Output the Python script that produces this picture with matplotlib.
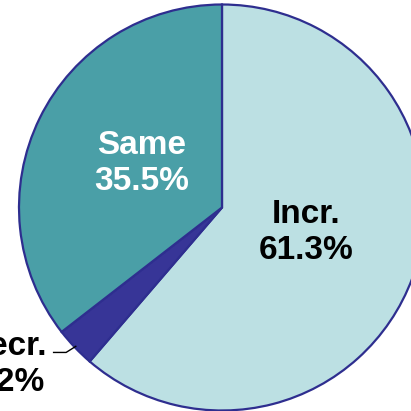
import numpy as np
import matplotlib
matplotlib.use("Agg")
import matplotlib.pyplot as plt

categories = ["Incr.", "Decr.", "Same"]
shares = [61.3, 3.2, 35.5]
colors = ["#bce0e3", "#373597", "#4a9fa7"]
text_colors = ["black", "black", "white"]

plt.rcParams["font.family"] = ["Liberation Sans", "DejaVu Sans"]

W = H = 411
fig = plt.figure(figsize=(W / 100, H / 100), dpi=100)
ax = fig.add_axes([0, 0, 1, 1])
ax.axis("off")

# pie centre and radius in pixel units of the canvas
cx, cy, r = 222.0, 207.5, 203.0
ax.set_xlim(-cx / r, (W - cx) / r)
ax.set_ylim((cy - H) / r, cy / r)

wedges, _ = ax.pie(shares, colors=colors, startangle=90, counterclock=False,
                   radius=1.0, center=(0, 0), frame=True,
                   wedgeprops=dict(edgecolor="#2e2e8f", linewidth=1.6))
ax.set_xlim(-cx / r, (W - cx) / r)
ax.set_ylim((cy - H) / r, cy / r)
ax.axis("off")

label_pos = {
    "Incr.": (0.416, -0.123),
    "Same": (-0.397, 0.217),
    "Decr.": (-1.064, -0.775),
}
for name, val, tc in zip(categories, shares, text_colors):
    x, y = label_pos[name]
    ax.text(x, y, f"{name}\n{val:.1f}%", ha="center", va="center",
            fontsize=24, fontweight="bold", color=tc, linespacing=1.2)

# leader line for the small slice
w = wedges[1]
mid = np.deg2rad((w.theta1 + w.theta2) / 2)
ex, ey = np.cos(mid) * 0.99, np.sin(mid) * 0.99
ax.plot([-0.833, -0.768, ex], [-0.714, -0.714, ey], color="black", lw=1.0,
        solid_capstyle="butt")

fig.savefig("out.png", dpi=100)
